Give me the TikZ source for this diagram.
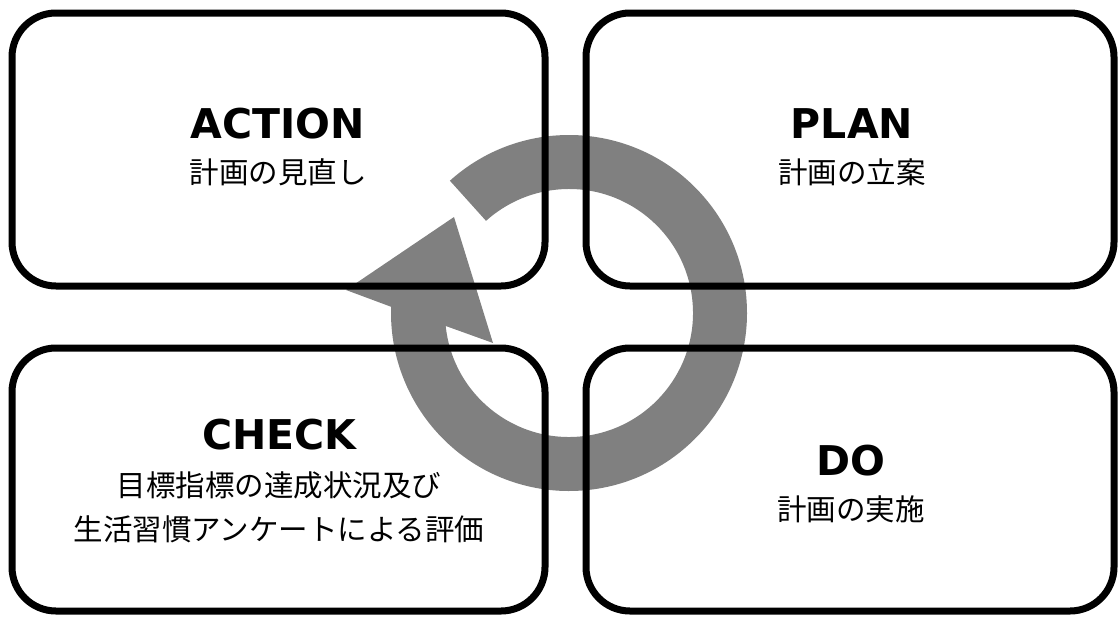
\documentclass[tikz,border=0pt]{standalone}
\usepackage{fontspec}
\setmainfont{DejaVu Sans}
\newfontfamily\jpfont{Noto Sans CJK JP}
\usetikzlibrary{calc}
\begin{document}
\begin{tikzpicture}[x=1pt,y=1pt,
  box/.style={draw=black, line width=7pt, rounded corners=44pt, rectangle, inner sep=0pt},
  title/.style={font=\fontsize{41}{41}\selectfont\bfseries, inner sep=0pt, anchor=base},
  sub/.style={font=\jpfont\fontsize{29.5}{29.5}\selectfont, inner sep=0pt, anchor=base},
  ring/.style={fill=gray}]
\useasboundingbox (0,0) rectangle (1118,-616);
% circular arrow
\coordinate (C) at (569,-313);
\coordinate (T) at (346,-290);
\coordinate (A) at (454,-217);
\coordinate (B) at (493,-343);
\fill[ring] ($(C)+(132:178)$) arc[start angle=132,end angle=-182,radius=178]
  -- (T) -- (A) -- (B) -- ($(C)+(-174:124)$)
  arc[start angle=-174,end angle=132,radius=124] -- cycle;
% boxes
\node[box, minimum width=533, minimum height=273] (action) at (278.5,-149.5) {};
\node[box, minimum width=528, minimum height=273] (plan) at (850,-149.5) {};
\node[box, minimum width=533, minimum height=263] (check) at (278.5,-479.5) {};
\node[box, minimum width=528, minimum height=263] (do) at (850,-479.5) {};
% texts
\node[title] (actiont) at (278,-138) {ACTION};
\node[sub] (actions) at (278,-183) {計画の見直し};
\node[title] (plant) at (852,-138) {PLAN};
\node[sub] (plans) at (852,-183) {計画の立案};
\node[title] (checkt) at (279.5,-449) {CHECK};
\node[sub] (checks1) at (279,-496) {目標指標の達成状況及び};
\node[sub] (checks2) at (279,-540) {生活習慣アンケートによる評価};
\node[title] (dot) at (851,-475) {DO};
\node[sub] (dos) at (851,-520) {計画の実施};
\end{tikzpicture}
\end{document}
